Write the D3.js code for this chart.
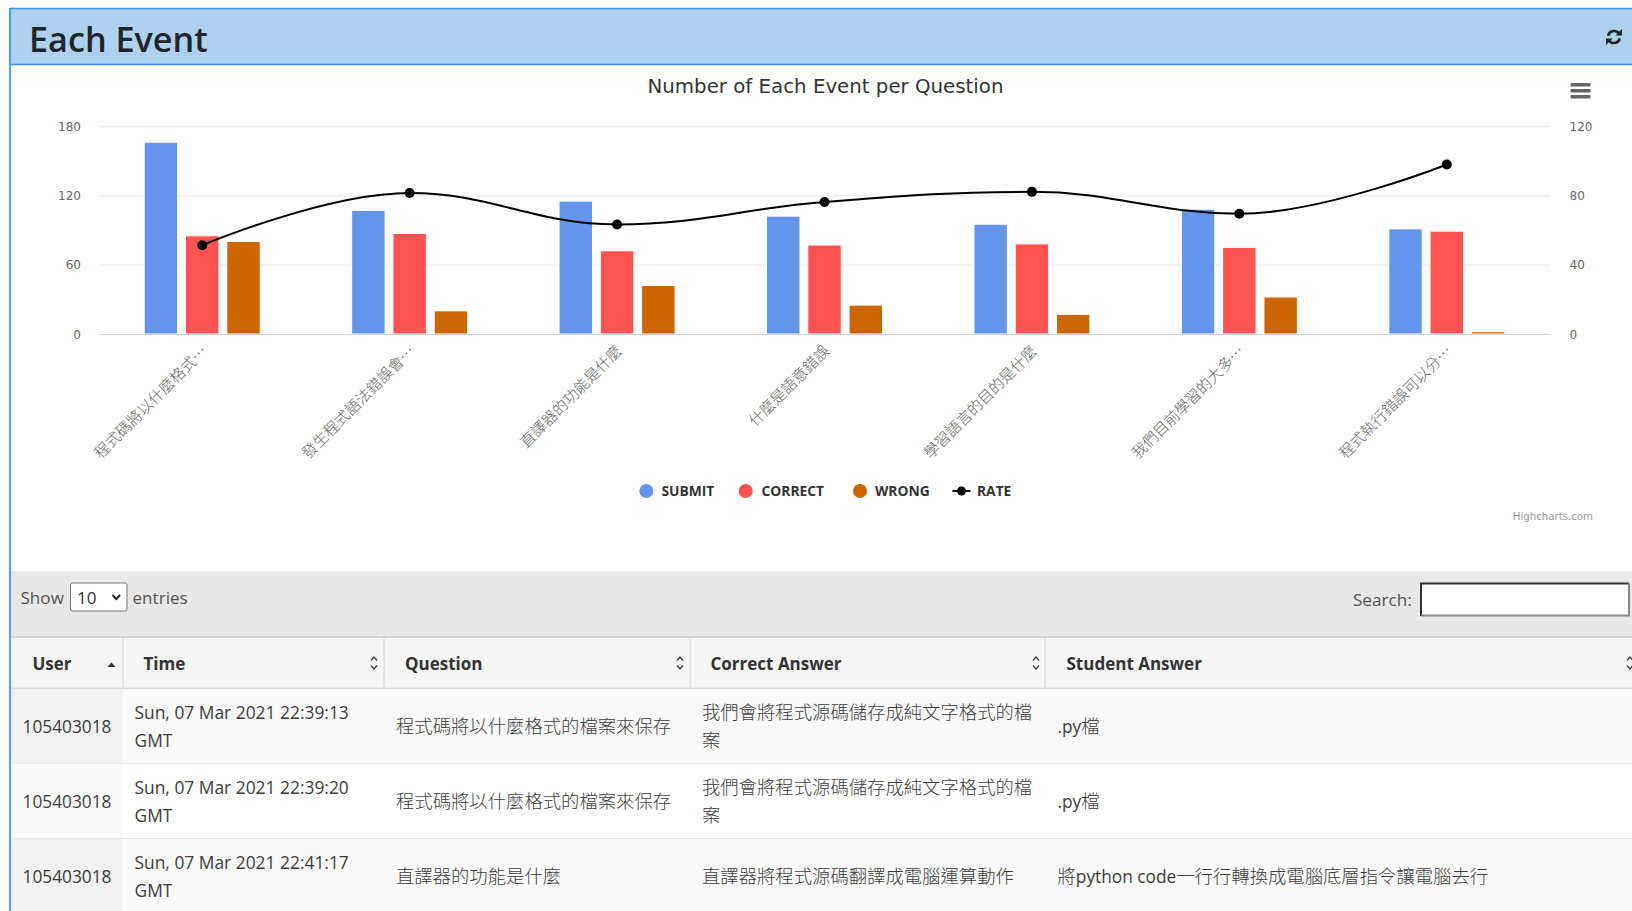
<!DOCTYPE html>
<html>
<head>
<meta charset="utf-8">
<title>Each Event</title>
<script src="https://cdn.jsdelivr.net/npm/d3@7"></script>
<style>
html,body{margin:0;padding:0;background:#fff;overflow:hidden}
svg{display:block}
</style>
</head>
<body>
<svg id="page" width="1632" height="911"></svg>
<script>
// Per-question counts and the answer rate shown in the combined chart
const questions = ["程式碼將以什麼格式…","發生程式語法錯誤會…","直譯器的功能是什麼","什麼是語意錯誤","學習語言的目的是什麼","我們目前學習的大多…","程式執行錯誤可以分…"];
const seriesNames = ["SUBMIT","CORRECT","WRONG"];
const submitCounts = [166,107,115,102,95,108,91];
const correctCounts = [85,87,72,77,78,75,89];
const wrongCounts = [80,20,42,25,17,32,2];
const rateValues = [51.2,81.3,63.2,76.2,82,69.4,97.8];
const leftTicks = [0,60,120,180];
const rightTicks = [0,40,80,120];
const seriesColors = ["#6495ed","#ff5252","#cc6600"];

// Event table contents
const tableHeaders = ["User","Time","Question","Correct Answer","Student Answer"];
const tableRows = [
  ["105403018",["Sun, 07 Mar 2021 22:39:13","GMT"],"程式碼將以什麼格式的檔案來保存",["我們會將程式源碼儲存成純文字格式的檔","案"],".py檔"],
  ["105403018",["Sun, 07 Mar 2021 22:39:20","GMT"],"程式碼將以什麼格式的檔案來保存",["我們會將程式源碼儲存成純文字格式的檔","案"],".py檔"],
  ["105403018",["Sun, 07 Mar 2021 22:41:17","GMT"],"直譯器的功能是什麼",["直譯器將程式源碼翻譯成電腦運算動作"],"將python code一行行轉換成電腦底層指令讓電腦去行"]
];

const UI = "'Open Sans','Noto Sans',sans-serif";
const CJK = "'Noto Sans CJK TC','Noto Sans',sans-serif";
const CHART = "'DejaVu Sans',sans-serif";
const svg = d3.select("#page");

// Writes a string as runs so Latin and CJK glyphs keep their own size and face
function mixedText(parent, str, x, y, latinSize, cjkSize, fill) {
  const t = parent.append("text").attr("x", x).attr("y", y).attr("fill", fill);
  (str.match(/[\u2E80-\u9FFF\uFF00-\uFFEF]+|[^\u2E80-\u9FFF\uFF00-\uFFEF]+/g) || []).forEach(run => {
    const isCjk = /[\u2E80-\u9FFF\uFF00-\uFFEF]/.test(run);
    t.append("tspan")
      .attr("font-family", isCjk ? CJK : UI)
      .attr("font-size", isCjk ? cjkSize : latinSize)
      .attr("font-weight", isCjk ? 300 : 400)
      .attr("xml:space", "preserve")
      .text(run);
  });
  return t;
}

// d3 curve with the control-point rule of a spline series: handles reach 1/2.5 of
// the gap towards each neighbour and are clamped so no false extremes appear
function splineCurve(context) {
  let pts = [];
  return {
    areaStart() {}, areaEnd() {},
    lineStart() { pts = []; },
    point(x, y) { pts.push([+x, +y]); },
    lineEnd() {
      const s = 1.5, d = 2.5;
      const handles = pts.map((p, i) => {
        if (i === 0 || i === pts.length - 1) return {lx:p[0], ly:p[1], rx:p[0], ry:p[1]};
        const [lastX, lastY] = pts[i-1], [nextX, nextY] = pts[i+1], [px, py] = p;
        const lx = (s*px + lastX)/d, rx = (s*px + nextX)/d;
        let ly = (s*py + lastY)/d, ry = (s*py + nextY)/d;
        const shift = (ry - ly)*(rx - px)/(rx - lx) + py - ry;
        ly += shift; ry += shift;
        if (ly > lastY && ly > py) { ly = Math.max(lastY, py); ry = 2*py - ly; }
        else if (ly < lastY && ly < py) { ly = Math.min(lastY, py); ry = 2*py - ly; }
        if (ry > nextY && ry > py) { ry = Math.max(nextY, py); ly = 2*py - ry; }
        else if (ry < nextY && ry < py) { ry = Math.min(nextY, py); ly = 2*py - ry; }
        return {lx, ly, rx, ry};
      });
      pts.forEach((p, i) => {
        if (i === 0) context.moveTo(p[0], p[1]);
        else context.bezierCurveTo(handles[i-1].rx, handles[i-1].ry, handles[i].lx, handles[i].ly, p[0], p[1]);
      });
    }
  };
}

// Card header
const cardLine = "#3d93f5";
svg.append("rect").attr("x",10).attr("y",9).attr("width",1622).attr("height",55).attr("fill","#aed1f0");
svg.append("line").attr("x1",10).attr("x2",1632).attr("y1",8.5).attr("y2",8.5).attr("stroke",cardLine).attr("stroke-width",1.4);
svg.append("line").attr("x1",10).attr("x2",1632).attr("y1",64.5).attr("y2",64.5).attr("stroke",cardLine).attr("stroke-width",1.4);
svg.append("line").attr("x1",10).attr("x2",10).attr("y1",8).attr("y2",911).attr("stroke",cardLine).attr("stroke-width",1.8);
svg.append("text").attr("x",29).attr("y",52).attr("font-family",UI).attr("font-size",34.2).attr("font-weight",600).attr("fill","#212529").text("Each Event");

// Reload glyph in the header
const reload = svg.append("g").attr("transform","translate(1614,37)").attr("fill","none").attr("stroke","#212529").attr("stroke-width",2.6);
reload.append("path").attr("d",d3.arc()({innerRadius:6,outerRadius:6,startAngle:-1.35,endAngle:1.0}));
reload.append("path").attr("d",d3.arc()({innerRadius:6,outerRadius:6,startAngle:1.8,endAngle:4.15}));
reload.append("path").attr("d","M8 -8V-1.5H1.5Z").attr("fill","#212529").attr("stroke","none");
reload.append("path").attr("d","M-8 8V1.5H-1.5Z").attr("fill","#212529").attr("stroke","none");

// Chart scales
const plot = {left:98.5, right:1550.5, top:126, bottom:334};
const x0 = d3.scaleBand().domain(questions).range([plot.left, plot.right]);
const groupHalf = 58;
const x1 = d3.scaleBand().domain(seriesNames)
  .range([x0.bandwidth()/2 - groupHalf, x0.bandwidth()/2 + groupHalf]).paddingInner(0.19);
const yCount = d3.scaleLinear().domain([0,180]).range([plot.bottom, plot.top]);
const yRate = d3.scaleLinear().domain([0,120]).range([plot.bottom, plot.top]);

svg.append("text").attr("x",825.5).attr("y",93).attr("text-anchor","middle")
  .attr("font-family",CHART).attr("font-size",19.8).attr("fill","#333").text("Number of Each Event per Question");

// Hamburger menu of the chart
svg.append("g").selectAll("rect").data([0,1,2]).join("rect")
  .attr("x",1570.5).attr("y",d=>83+d*6).attr("width",20).attr("height",3.4).attr("rx",1).attr("fill","#666");

// Gridlines and axes
const gridAxis = d3.axisLeft(yCount).tickValues(leftTicks.slice(1)).tickSize(-(plot.right-plot.left)).tickFormat("");
svg.append("g").attr("transform",`translate(${plot.left},0)`).call(gridAxis)
  .call(g=>g.select(".domain").remove())
  .selectAll("line").attr("stroke","#ededed").attr("stroke-width",1.4);

const styleAxis = g => {
  g.select(".domain").remove();
  g.selectAll("line").remove();
  g.selectAll("text").attr("font-family",CHART).attr("font-size",12).attr("fill","#666").attr("dy","0.36em");
};
svg.append("g").attr("transform","translate(81,0)").call(d3.axisLeft(yCount).tickValues(leftTicks).tickSize(0).tickPadding(0)).call(styleAxis);
svg.append("g").attr("transform","translate(1569.5,0)").call(d3.axisRight(yRate).tickValues(rightTicks).tickSize(0).tickPadding(0)).call(styleAxis);

// Grouped bars
const counts = [submitCounts, correctCounts, wrongCounts];
seriesNames.forEach((name,s) => {
  svg.append("g").attr("stroke","#fff").attr("stroke-width",1).selectAll("rect").data(counts[s]).join("rect")
    .attr("x",(d,i)=>x0(questions[i])+x1(name))
    .attr("y",d=>yCount(d))
    .attr("width",x1.bandwidth())
    .attr("height",d=>yCount(0)-yCount(d))
    .attr("fill",seriesColors[s]);
});

svg.append("line").attr("x1",plot.left).attr("x2",plot.right).attr("y1",plot.bottom+0.5).attr("y2",plot.bottom+0.5).attr("stroke","#ccd6eb").attr("stroke-width",1.2);

// Rate spline with its markers
const rateX = (d,i)=>x0(questions[i])+x0.bandwidth()/2;
svg.append("path").attr("fill","none").attr("stroke","#000").attr("stroke-width",2)
  .attr("d",d3.line().x(rateX).y(d=>yRate(d)).curve(splineCurve)(rateValues));
svg.append("g").selectAll("circle").data(rateValues).join("circle")
  .attr("cx",rateX).attr("cy",d=>yRate(d)).attr("r",5).attr("fill","#000");

// Rotated question labels
svg.append("g").selectAll("text").data(questions).join("text")
  .attr("transform",d=>`translate(${x0(d)+x0.bandwidth()/2+6},352) rotate(-45)`)
  .attr("text-anchor","end").attr("font-family",CJK).attr("font-weight",300).attr("font-size",15.2).attr("fill","#666").text(d=>d);

// Legend
const legendItems = [{x:646.4,tx:661.5},{x:745.7,tx:761.5},{x:860,tx:875}];
const legendY = 491;
seriesNames.forEach((name,s)=>{
  svg.append("circle").attr("cx",legendItems[s].x).attr("cy",legendY).attr("r",7).attr("fill",seriesColors[s]);
  svg.append("text").attr("x",legendItems[s].tx).attr("y",legendY+5).attr("font-family",UI).attr("font-weight",700).attr("font-size",13.8).attr("fill","#333").text(name);
});
svg.append("line").attr("x1",952.5).attr("x2",970.5).attr("y1",legendY).attr("y2",legendY).attr("stroke","#000").attr("stroke-width",2);
svg.append("circle").attr("cx",961.5).attr("cy",legendY).attr("r",4.5).attr("fill","#000");
svg.append("text").attr("x",977).attr("y",legendY+5).attr("font-family",UI).attr("font-weight",700).attr("font-size",13.8).attr("fill","#333").text("RATE");

svg.append("text").attr("x",1593).attr("y",520).attr("text-anchor","end").attr("font-family",CHART).attr("font-size",10.2).attr("fill","#999").text("Highcharts.com");

// Table toolbar
svg.append("rect").attr("x",11).attr("y",572.5).attr("width",1621).attr("height",64).attr("fill","#e8e8e8");
svg.append("line").attr("x1",11).attr("x2",1632).attr("y1",572).attr("y2",572).attr("stroke","#ddd");
mixedText(svg,"Show",20.5,604,17.1,18.3,"#555");
svg.append("rect").attr("x",70.5).attr("y",583).attr("width",56.5).attr("height",28).attr("rx",2).attr("fill","#fff").attr("stroke","#777");
mixedText(svg,"10",77,604,17.1,18.3,"#333");
svg.append("path").attr("d","M112.5 595l3.8 4 3.8-4").attr("fill","none").attr("stroke","#222").attr("stroke-width",2);
mixedText(svg,"entries",132.5,604,17.1,18.3,"#555");
mixedText(svg,"Search:",1353,606,17.1,18.3,"#555");
svg.append("rect").attr("x",1421).attr("y",583).attr("width",208).attr("height",33).attr("fill","#fff");
svg.append("path").attr("d","M1421 616V583.5H1629").attr("fill","none").attr("stroke","#333").attr("stroke-width",2);
svg.append("path").attr("d","M1421 615.5H1629V583").attr("fill","none").attr("stroke","#888").attr("stroke-width",2);

// Table header row
const colEdges = [11,123,384,690,1045,1632];
const headerX = [32.5,143.5,405,710.5,1066.5];
const sortX = [111.5,374,680,1036,1630];
svg.append("rect").attr("x",11).attr("y",636).attr("width",1621).attr("height",52.5).attr("fill","#f5f5f5");
svg.append("line").attr("x1",11).attr("x2",1632).attr("y1",637).attr("y2",637).attr("stroke","#d4d4d4").attr("stroke-width",2);
svg.append("line").attr("x1",11).attr("x2",1632).attr("y1",688.5).attr("y2",688.5).attr("stroke","#d4d4d4").attr("stroke-width",1.6);
colEdges.slice(1,5).forEach(e=>svg.append("line").attr("x1",e).attr("x2",e).attr("y1",638).attr("y2",688).attr("stroke","#d8d8d8"));
tableHeaders.forEach((h,i)=>{
  svg.append("text").attr("x",headerX[i]).attr("y",670).attr("font-family",UI).attr("font-weight",700).attr("font-size",17).attr("fill","#333").text(h);
  const c = sortX[i];
  if (i===0) {
    svg.append("path").attr("d",`M${c-4} 667h8l-4-4.5z`).attr("fill","#333");
  } else {
    svg.append("path").attr("d",`M${c-3} 660.5l3-3.5 3 3.5M${c-3} 665.5l3 3.5 3-3.5`).attr("fill","none").attr("stroke","#444").attr("stroke-width",1.4);
  }
});

// Table body
const rowTop = d => 688.8 + d*75;
const bodyInk = "#3c3c3c";
tableRows.forEach((row,r)=>{
  const y = rowTop(r);
  const band = r%2===0;
  svg.append("rect").attr("x",11).attr("y",y).attr("width",1621).attr("height",75).attr("fill",band?"#f9f9f9":"#fff");
  svg.append("rect").attr("x",11).attr("y",y).attr("width",112).attr("height",75).attr("fill",band?"#f1f1f1":"#fafafa");
  svg.append("line").attr("x1",11).attr("x2",1632).attr("y1",y+75).attr("y2",y+75).attr("stroke","#ddd").attr("stroke-width",1.2);
  const mid = y+43.7;
  mixedText(svg,row[0],22.5,mid,17.3,18.3,bodyInk);
  row[1].forEach((l,k)=>mixedText(svg,l,134.5,y+30.2+k*27.5,17.4,18.3,bodyInk));
  mixedText(svg,row[2],396,mid,17.3,18.35,bodyInk);
  const lines = row[3];
  if (lines.length>1) lines.forEach((l,k)=>mixedText(svg,l,702,y+29.7+k*28,17.3,18.35,bodyInk));
  else mixedText(svg,lines[0],702,mid,17.3,18.35,bodyInk);
  mixedText(svg,row[4],1057.5,mid,17.3,18.35,bodyInk);
});
</script>
</body>
</html>
